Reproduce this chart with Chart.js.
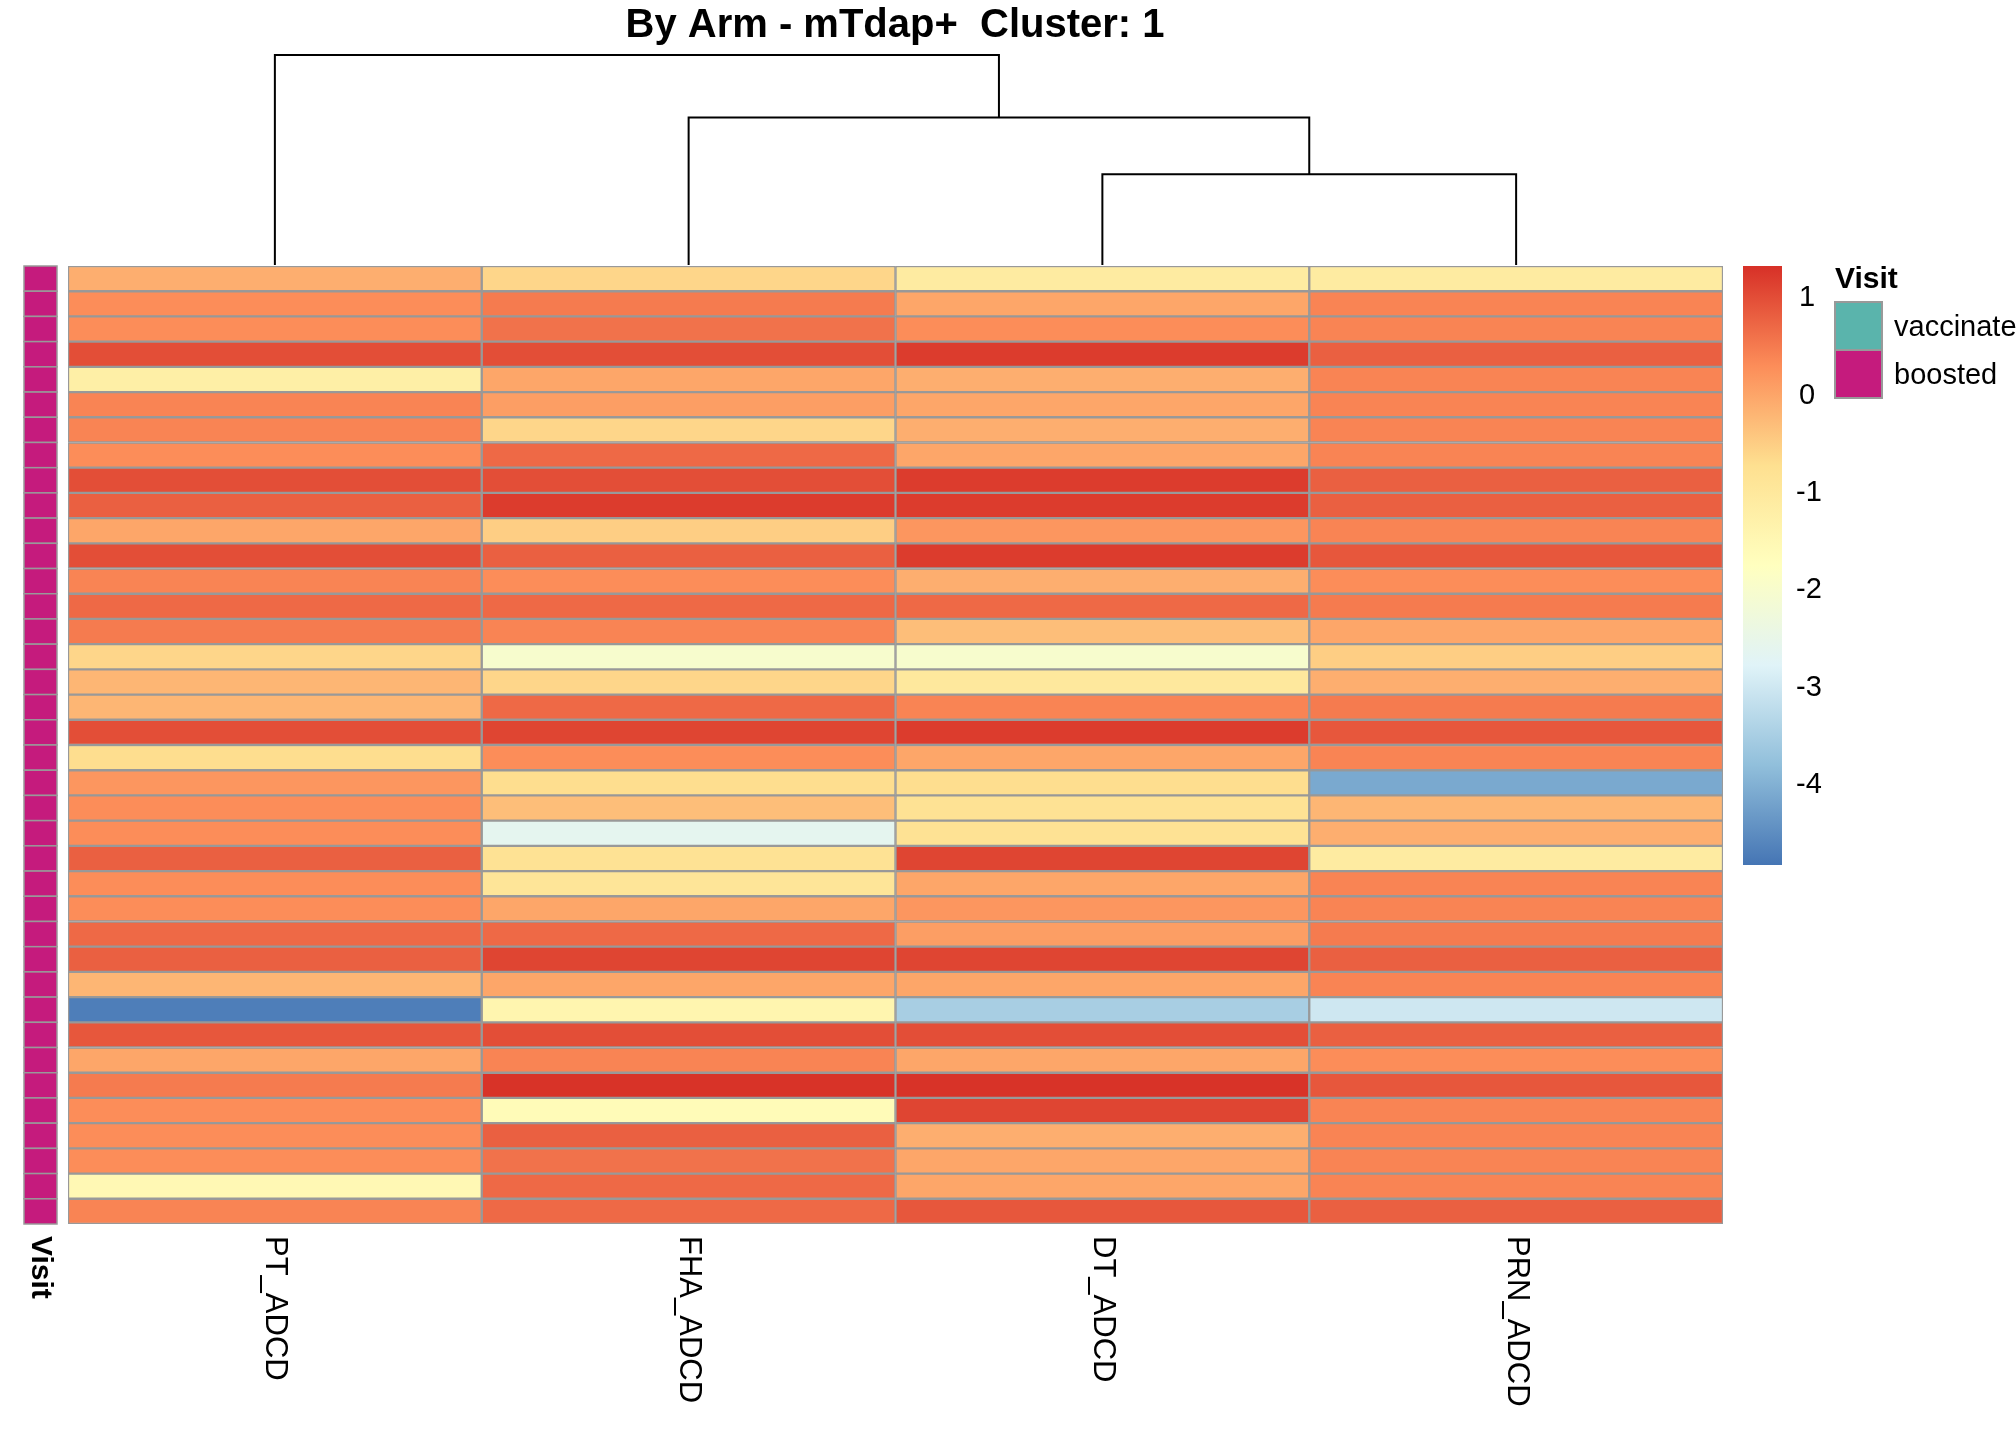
<!DOCTYPE html>
<html>
<head>
<meta charset="utf-8">
<script src="https://cdn.jsdelivr.net/npm/chart.js@4/dist/chart.umd.min.js"></script>
<style>
  html, body { margin: 0; padding: 0; background: #fff; }
  #wrap { width: 2016px; height: 1440px; position: relative; }
</style>
</head>
<body>
<div id="wrap"><canvas id="heat"></canvas></div>
<script>
const title = "By Arm - mTdap+  Cluster: 1";
const columns = ["PT_ADCD", "FHA_ADCD", "DT_ADCD", "PRN_ADCD"];
// one value per row, top to bottom
const ptValues  = [-0.1,0.3,0.3,1.0,-1.2,0.4,0.4,0.3,1.0,0.8,0.0,1.0,0.4,0.7,0.5,-0.6,-0.2,-0.2,1.0,-0.7,0.2,0.3,0.3,0.8,0.3,0.3,0.7,0.8,-0.2,-4.7,0.9,0.0,0.5,0.3,0.3,0.3,-1.5,0.4];
const fhaValues = [-0.6,0.5,0.6,1.0,0.0,0.1,-0.6,0.7,1.0,1.2,-0.5,0.8,0.3,0.7,0.4,-2.0,-0.6,0.7,1.1,0.3,-0.7,-0.3,-2.6,-0.8,-0.9,0.0,0.7,1.1,0.0,-1.4,1.0,0.4,1.3,-1.6,0.8,0.6,0.7,0.7];
const dtValues  = [-1.1,0.0,0.3,1.2,-0.1,0.0,-0.1,0.0,1.2,1.2,0.2,1.2,-0.1,0.7,-0.3,-2.0,-1.0,0.4,1.2,0.0,-0.7,-0.8,-0.8,1.1,0.0,0.2,0.1,1.1,0.0,-3.5,1.0,0.0,1.3,1.1,-0.1,0.0,0.0,0.9];
const prnValues = [-1.1,0.4,0.4,0.8,0.4,0.4,0.4,0.4,0.8,0.8,0.4,0.9,0.3,0.5,0.0,-0.5,-0.1,0.5,0.9,0.4,-4.1,-0.2,-0.1,-1.1,0.4,0.4,0.5,0.8,0.4,-3.0,0.8,0.3,0.9,0.4,0.4,0.4,0.4,0.8];
const visit = Array(38).fill("boosted");
const visitLevels = ["vaccinated", "boosted"];
const visitColors = ["#5AB4AC", "#C51B7D"];
const colorTicks = [1, 0, -1, -2, -3, -4];
// dendrogram merges: [left node, right node, height]; leaves are column indexes
const merges = [[2, 3, 1.6], [1, "m0", 2.6], [0, "m1", 3.7]];

const vMin = -4.82, vMax = 1.33;
const palette = ["#4575B4","#91BFDB","#E0F3F8","#FFFFBF","#FEE090","#FC8D59","#D73027"];

function hexRgb(h) { return [1,3,5].map(i => parseInt(h.substr(i,2),16)); }
function colorFor(v) {
  let t = (v - vMin) / (vMax - vMin) * (palette.length - 1);
  t = Math.max(0, Math.min(palette.length - 1.0001, t));
  const i = Math.floor(t), f = t - i;
  const a = hexRgb(palette[i]), b = hexRgb(palette[i+1]);
  return "rgb(" + a.map((c, k) => Math.round(c + (b[k]-c)*f)).join(",") + ")";
}

const cols = [ptValues, fhaValues, dtValues, prnValues];
const nRows = ptValues.length;
const datasets = [];
for (let r = 0; r < nRows; r++) {
  datasets.push({
    data: cols.map(() => 1),
    backgroundColor: cols.map(c => colorFor(c[r])),
    borderColor: "#999999",
    borderWidth: 1.5,
    borderSkipped: false,
    categoryPercentage: 1,
    barPercentage: 1,
    stack: "s"
  });
}

const FONT = "Arial, 'Liberation Sans', sans-serif";

const decor = {
  id: "decor",
  afterDraw(chart) {
    const c = chart.ctx, x = chart.scales.x, y = chart.scales.y;
    const area = chart.chartArea;
    c.save();
    // title
    c.fillStyle = "#000";
    c.font = "bold 40px " + FONT;
    c.textAlign = "center"; c.textBaseline = "middle";
    c.fillText(title, 895, 26);

    // visit annotation strip
    for (let r = 0; r < nRows; r++) {
      const top = y.getPixelForValue(r), bot = y.getPixelForValue(r + 1);
      c.fillStyle = visitColors[visitLevels.indexOf(visit[r])];
      c.fillRect(24, top, 33, bot - top);
      c.strokeStyle = "#999"; c.lineWidth = 1.5;
      c.strokeRect(24, top, 33, bot - top);
    }

    // column labels + "Visit" label, rotated clockwise
    c.fillStyle = "#000";
    c.textAlign = "left"; c.textBaseline = "middle";
    c.font = "31px " + FONT;
    columns.forEach((name, i) => {
      c.save();
      c.translate(x.getPixelForValue(i), area.bottom + 12);
      c.rotate(Math.PI / 2);
      c.fillText(name, 0, 0);
      c.restore();
    });
    c.save();
    c.font = "bold 30px " + FONT;
    c.translate(40, area.bottom + 12);
    c.rotate(Math.PI / 2);
    c.fillText("Visit", 0, 0);
    c.restore();

    // dendrogram
    const hMax = merges[merges.length - 1][2];
    const hy = h => area.top - 1 - h / hMax * (area.top - 56);
    const nodes = {};
    const pos = n => typeof n === "number" ? { x: x.getPixelForValue(n), h: 0 } : nodes[n];
    c.strokeStyle = "#000"; c.lineWidth = 2;
    merges.forEach((m, i) => {
      const a = pos(m[0]), b = pos(m[1]);
      c.beginPath();
      c.moveTo(a.x, hy(a.h)); c.lineTo(a.x, hy(m[2]));
      c.lineTo(b.x, hy(m[2])); c.lineTo(b.x, hy(b.h));
      c.stroke();
      nodes["m" + i] = { x: (a.x + b.x) / 2, h: m[2] };
    });

    // colour bar
    const cbL = 1743, cbW = 39, cbT = 266, cbB = 865;
    const grad = c.createLinearGradient(0, cbB, 0, cbT);
    palette.forEach((p, i) => grad.addColorStop(i / (palette.length - 1), p));
    c.fillStyle = grad;
    c.fillRect(cbL, cbT, cbW, cbB - cbT);
    c.fillStyle = "#000"; c.font = "29px " + FONT;
    c.textAlign = "left"; c.textBaseline = "middle";
    colorTicks.forEach(t => {
      const py = cbB - (t - vMin) / (vMax - vMin) * (cbB - cbT);
      c.fillText(String(t), t < 0 ? 1796 : 1799, py);
    });

    // legend
    c.font = "bold 30px " + FONT;
    c.fillText("Visit", 1835, 280);
    c.font = "29px " + FONT;
    visitLevels.forEach((lv, i) => {
      const ty = 302 + i * 48;
      c.fillStyle = visitColors[i];
      c.fillRect(1835, ty, 47, 48);
      c.strokeStyle = "#999"; c.lineWidth = 2;
      c.strokeRect(1835, ty, 47, 48);
      c.fillStyle = "#000";
      c.fillText(lv, 1894, ty + 26);
    });
    c.restore();
  }
};

new Chart(document.getElementById("heat"), {
  type: "bar",
  data: { labels: columns, datasets: datasets },
  options: {
    responsive: true,
    maintainAspectRatio: false,
    animation: false,
    layout: { padding: { left: 68, right: 293, top: 266, bottom: 216 } },
    plugins: { legend: { display: false }, tooltip: { enabled: false }, title: { display: false } },
    scales: {
      x: { display: false, stacked: true },
      y: { display: false, stacked: true, min: 0, max: nRows, reverse: true }
    }
  },
  plugins: [decor]
});
</script>
</body>
</html>
